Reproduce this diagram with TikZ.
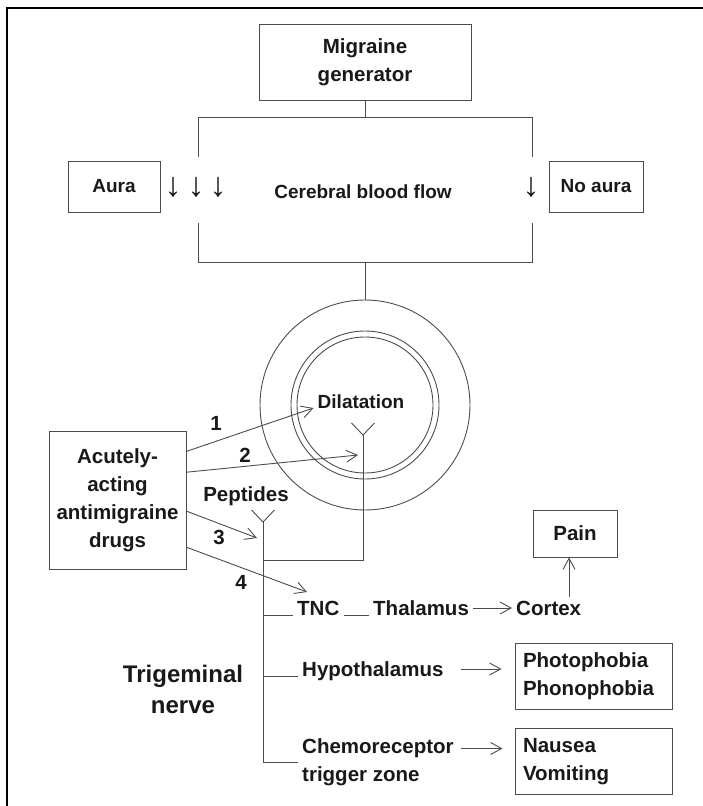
\documentclass[tikz,border=0pt]{standalone}
\usepackage{fontspec}
\setmainfont{Liberation Sans}
\usepackage{tikz}
\usetikzlibrary{arrows.meta, positioning, calc}

\begin{document}
\begin{tikzpicture}[x=1pt, y=-1pt, font=\fontsize{20.5}{28}\selectfont\bfseries, text=black!90,
    ln/.style={draw=black!70, line width=0.9pt},
    box/.style={rectangle, draw=black!70, line width=0.9pt, inner sep=0pt, align=center},
    sbox/.style={box, inner xsep=8pt, text width=141pt, minimum height=66pt, align=left},
    lbl/.style={inner sep=4pt, text height=14pt, text depth=0pt},
    small/.style={font=\fontsize{19}{24}\selectfont\bfseries},
    arr/.style={ln, -{Straight Barb[length=11pt, width=12pt]}}]
    \useasboundingbox (0,0) rectangle (703,806);
    \draw[line width=2pt] (7,806) -- (7,7.5) -- (703,7.5);

    % generator and blood flow
    \node[box, minimum width=212pt, minimum height=76pt] (gen) at (365,62) {Migraine\\generator};
    \node[box, small, minimum width=92pt, minimum height=51pt] (aura) at (114,186.5) {Aura};
    \node[box, small, minimum width=94pt, minimum height=51pt] (noaura) at (596,186.5) {No aura};
    \node[lbl, small, anchor=base] (cbf) at (363,198) {Cerebral blood flow};
    \foreach \x [count=\i] in {173,196,218,531} {
        \node[font=\fontsize{34}{34}\selectfont, inner sep=0pt] (dn\i) at (\x,187) {↓};
    }
    \coordinate (tl) at (198,117);
    \coordinate (tr) at (532,117);
    \coordinate (bl) at (198,262);
    \coordinate (br) at (532,262);
    \draw[ln] (gen.south) -- (gen.south |- tl);
    \draw[ln] ($(tl)+(0,40)$) -- (tl) -- (tr) -- ($(tr)+(0,40)$);
    \draw[ln] ($(bl)+(0,-39)$) -- (bl) -- (br) -- ($(br)+(0,-39)$);

    % vessel
    \node[circle, ln, minimum size=210pt] (vessel) at (365,405) {};
    \node[circle, ln, minimum size=148pt] (wall) at (365,405) {};
    \node[circle, ln, minimum size=136pt] (lumen) at (365,405) {};
    \draw[ln] (vessel.north |- bl) -- (vessel.north);
    \node[lbl, small, anchor=base] (dil) at (361,408) {Dilatation};

    % receptors and trigeminal stem
    \coordinate (rd) at (363,435);
    \coordinate (rp) at (263,522);
    \coordinate (tj) at (263,560);
    \foreach \r in {rd,rp} {
        \draw[ln] ($(\r)+(-11.5,-12)$) -- (\r) -- ($(\r)+(11.5,-12)$);
    }
    \draw[ln] (rd) -- (rd |- tj) -- (tj);
    \node[lbl, anchor=base] (pep) at (246,501) {Peptides};

    % drugs
    \node[box, minimum width=137pt, minimum height=138pt] (drugs) at (117.5,500) {Acutely-\\acting\\antimigraine\\drugs};
    \coordinate (t2) at (358,455);
    \coordinate (t3) at (257,538);
    \coordinate (t4) at (307,592);
    \draw[arr] ($(drugs.north east)!0.15!(drugs.south east)$) -- (dil.base west);
    \draw[arr] ($(drugs.north east)!0.30!(drugs.south east)$) -- (t2);
    \draw[arr] ($(drugs.north east)!0.58!(drugs.south east)$) -- (t3);
    \draw[arr] ($(drugs.north east)!0.84!(drugs.south east)$) -- (t4);
    \foreach \n/\x/\y in {1/216/423, 2/245/455, 3/219/537, 4/241/582} {
        \node (num\n) at (\x,\y) {\n};
    }

    % central pathways
    \node[lbl, anchor=base west] (tnc) at (293,615) {TNC};
    \node[lbl, anchor=base west] (thal) at (369,615) {Thalamus};
    \node[lbl, anchor=base west] (cortex) at (512,615) {Cortex};
    \node[lbl, anchor=base west] (hypo) at (298,676) {Hypothalamus};
    \node[align=left, inner sep=4pt, anchor=west] (chemo) at (298,762.5) {Chemoreceptor\\trigger zone};
    \node[box, minimum width=84pt, minimum height=47pt] (pain) at (575,533.5) {Pain};
    \node[sbox] (photo) at (593.5,676) {Photophobia\\Phonophobia};
    \node[sbox] (nausea) at (593.5,761.5) {Nausea\\Vomiting};
    \node[align=center, font=\fontsize{24}{31}\selectfont\bfseries] (trig) at (183,689) {Trigeminal\\nerve};

    \draw[ln] (rp) -- (rp |- chemo.west);
    \draw[ln] (tnc.base west -| rp) -- (tnc.base west);
    \draw[ln] (hypo.base west -| rp) -- (hypo.base west);
    \draw[ln] (chemo.west -| rp) -- (chemo.west);
    \draw[ln] (tnc.base east) -- (thal.base west);
    \draw[arr] (thal) -- (cortex);
    \draw[arr, shorten <=13pt, shorten >=13pt] (hypo.east) -- (hypo.east -| photo.west);
    \draw[arr, shorten <=3pt, shorten >=12pt] ([yshift=14pt]chemo.east) -- ([yshift=14pt]chemo.east -| nausea.west);
    \coordinate (cx) at (569,597);
    \draw[arr] (cx) -- (cx |- pain.south);
\end{tikzpicture}
\end{document}
